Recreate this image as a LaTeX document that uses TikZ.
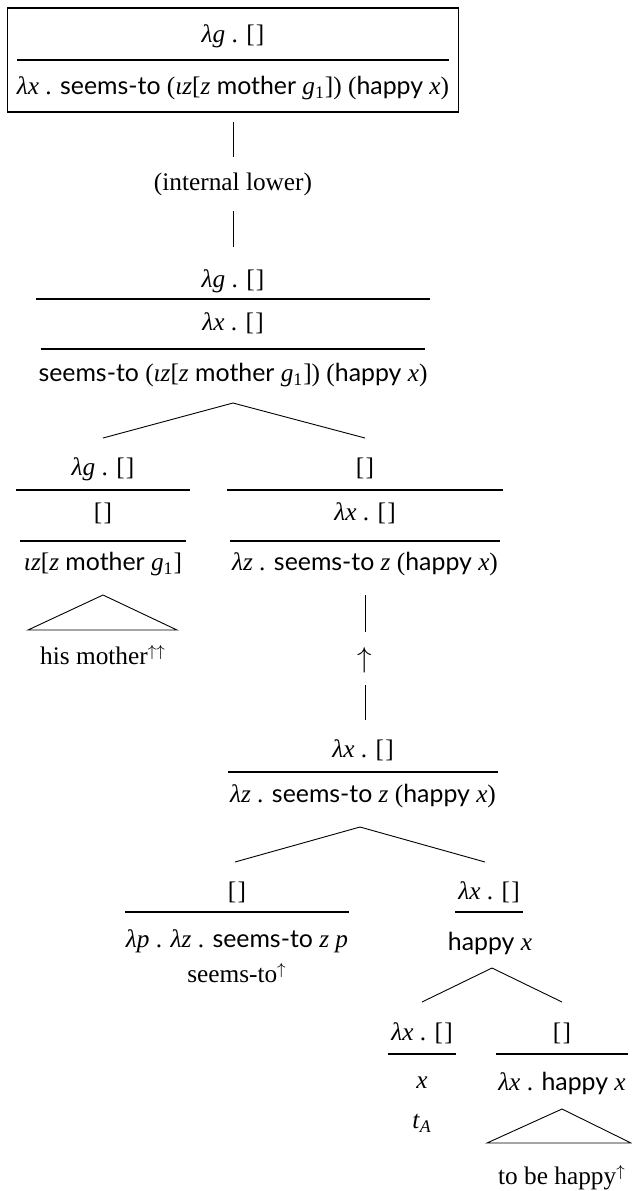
\documentclass[tikz,border=0pt]{standalone}
\usepackage{fontspec}
\setmainfont{Liberation Serif}[Scale=1.12]
\setsansfont{Lato}[Scale=1.1]
\newcommand{\sm}[1]{\textsf{#1}}
\newcommand{\mi}[1]{\textit{#1}}
\newcommand{\ee}{{[}\kern0.05em{]}}
\newcommand{\trule}[3]{%
  \path (#1.west) ++(-#3,0) coordinate (tmpL);
  \path (#1.east) ++(#3,0) coordinate (tmpR);
  \coordinate (tmpY) at (0,#2);
  \draw[rulestyle] (tmpL |- tmpY) -- (tmpR |- tmpY);}
\begin{document}
\begin{tikzpicture}[x=0.5pt,y=-0.5pt,
  every node/.style={inner sep=0pt, outer sep=0pt, font=\fontsize{11.3}{13}\selectfont},
  txt/.style={anchor=base},
  rulestyle/.style={line width=0.55pt},
  edge/.style={line width=0.45pt},
  boxline/.style={line width=0.55pt}]
\useasboundingbox (0,0) rectangle (632,1191);

% ---- top box
\node[txt] (b1) at (233,42) {\mi{λg} . \ee};
\node[txt] (b2) at (233,94) {\mi{λx} . \sm{seems-to} (\mi{ιz}[\mi{z} \sm{mother} \mi{g}\textsubscript{1}]) (\sm{happy} \mi{x})};
\trule{b2}{60}{0}
\path (b2.west) ++(-9,0) coordinate (bl);
\path (b2.east) ++(9,0) coordinate (br);
\coordinate (ytop) at (0,8);
\coordinate (ybot) at (0,112);
\draw[boxline] (bl |- ytop) rectangle (br |- ybot);

% ---- internal lower
\node[txt] (il) at (233,190) {(internal lower)};
\coordinate (v1a) at (233,122); \coordinate (v1b) at (233,157);
\coordinate (v2a) at (233,211); \coordinate (v2b) at (233,247);
\draw[edge] (v1a) -- (v1b);
\draw[edge] (v2a) -- (v2b);

% ---- root
\node[txt] (r1) at (233,287) {\mi{λg} . \ee};
\node[txt] (r2) at (233,330) {\mi{λx} . \ee};
\node[txt] (r3) at (233,381) {\sm{seems-to} (\mi{ιz}[\mi{z} \sm{mother} \mi{g}\textsubscript{1}]) (\sm{happy} \mi{x})};
\trule{r3}{299}{3}
\trule{r3}{349}{-2}
\coordinate (rA) at (233,403);
\coordinate (rL) at (103,438);
\coordinate (rR) at (365,438);
\draw[edge] (rA) -- (rL);
\draw[edge] (rA) -- (rR);

% ---- left child
\node[txt] (l1) at (103,475) {\mi{λg} . \ee};
\node[txt] (l2) at (103,520) {\ee};
\node[txt] (l3) at (103,570) {\mi{ιz}[\mi{z} \sm{mother} \mi{g}\textsubscript{1}]};
\trule{l3}{490}{8}
\trule{l3}{541}{4}
\coordinate (lA) at (103,595);
\coordinate (lB1) at (28,630);
\coordinate (lB2) at (177,630);
\draw[edge] (lA) -- (lB1) -- (lB2) -- cycle;
\node[txt] (l4) at (103,664) {his mother$^{\uparrow\uparrow}$};

% ---- right child
\node[txt] (m1) at (365,475) {\ee};
\node[txt] (m2) at (365,520) {\mi{λx} . \ee};
\node[txt] (m3) at (365,570) {\mi{λz} . \sm{seems-to} \mi{z} (\sm{happy} \mi{x})};
\trule{m3}{490}{5}
\trule{m3}{541}{2}
\coordinate (u1a) at (365,595); \coordinate (u1b) at (365,632);
\node[font=\fontsize{13.5}{15}\selectfont] (up) at (365,660) {$\uparrow$};
\coordinate (u2a) at (365,685); \coordinate (u2b) at (365,720);
\draw[edge] (u1a) -- (u1b);
\draw[edge] (u2a) -- (u2b);

% ---- S node
\node[txt] (s1) at (363,757) {\mi{λx} . \ee};
\node[txt] (s2) at (363,802) {\mi{λz} . \sm{seems-to} \mi{z} (\sm{happy} \mi{x})};
\trule{s2}{772}{2}
\coordinate (sA) at (360,827);
\coordinate (sL) at (235,862);
\coordinate (sR) at (485,862);
\draw[edge] (sA) -- (sL);
\draw[edge] (sA) -- (sR);

% ---- P node
\node[txt] (p1) at (237,899) {\ee};
\node[txt] (p2) at (237,947) {\mi{λp} . \mi{λz} . \sm{seems-to} \mi{z} \mi{p}};
\node[txt] (p3) at (237,982) {seems-to$^{\uparrow}$};
\trule{p2}{912}{1}

% ---- H node
\node[txt] (h1) at (489,899) {\mi{λx} . \ee};
\node[txt] (h2) at (490,950) {\sm{happy} \mi{x}};
\trule{h1}{912}{3}
\coordinate (hA) at (492,968);
\coordinate (hL) at (422,1002);
\coordinate (hR) at (562,1002);
\draw[edge] (hA) -- (hL);
\draw[edge] (hA) -- (hR);

% ---- X node
\node[txt] (x1) at (422,1040) {\mi{λx} . \ee};
\node[txt] (x2) at (422,1088) {\mi{x}};
\node[txt] (x3) at (422,1128) {\mi{t}\textsubscript{\mi{A}}};
\trule{x1}{1054}{3}

% ---- Y node
\node[txt] (y1) at (562,1040) {\ee};
\node[txt] (y2) at (562,1090) {\mi{λx} . \sm{happy} \mi{x}};
\trule{y2}{1054}{2}
\coordinate (yA) at (562,1109);
\coordinate (yB1) at (487,1143);
\coordinate (yB2) at (631,1143);
\draw[edge] (yA) -- (yB1) -- (yB2) -- cycle;
\node[txt] (y3) at (562,1184) {to be happy$^{\uparrow}$};
\end{tikzpicture}
\end{document}
